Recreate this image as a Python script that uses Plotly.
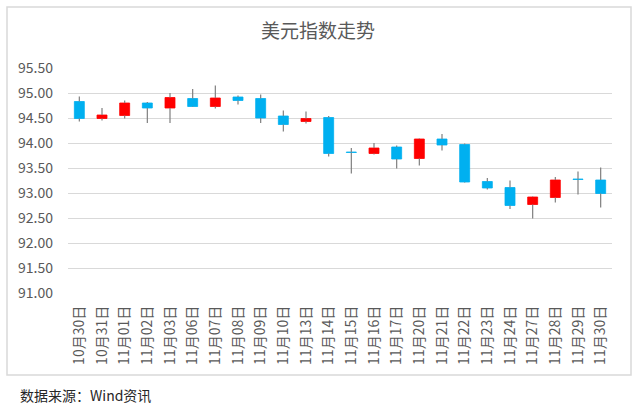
import plotly.graph_objects as go

dates = ["10月30日", "10月31日", "11月01日", "11月02日", "11月03日", "11月06日",
         "11月07日", "11月08日", "11月09日", "11月10日", "11月13日", "11月14日",
         "11月15日", "11月16日", "11月17日", "11月20日", "11月21日", "11月22日",
         "11月23日", "11月24日", "11月27日", "11月28日", "11月29日", "11月30日"]
open_ = [94.83, 94.49, 94.55, 94.80, 94.70, 94.89, 94.73, 94.92, 94.89, 94.54, 94.43, 94.51,
         93.82, 93.79, 93.92, 93.69, 94.08, 93.97, 93.23, 93.11, 92.77, 92.91, 93.28, 93.26]
close = [94.49, 94.56, 94.80, 94.70, 94.91, 94.73, 94.90, 94.85, 94.50, 94.37, 94.49, 93.79,
         93.81, 93.90, 93.68, 94.08, 93.96, 93.22, 93.10, 92.75, 92.92, 93.26, 93.27, 92.99]
high = [94.93, 94.70, 94.85, 94.82, 95.00, 95.08, 95.15, 94.95, 94.97, 94.65, 94.63, 94.54,
        93.90, 94.00, 93.95, 94.09, 94.18, 93.99, 93.30, 93.25, 92.93, 93.32, 93.43, 93.51]
low = [94.43, 94.45, 94.49, 94.40, 94.40, 94.72, 94.69, 94.77, 94.40, 94.23, 94.39, 93.73,
       93.39, 93.77, 93.49, 93.55, 93.85, 93.21, 93.07, 92.68, 92.49, 92.81, 92.97, 92.71]
y_ticks = [91.0, 91.5, 92.0, 92.5, 93.0, 93.5, 94.0, 94.5, 95.0, 95.5]

UP = "#FF0000"
DOWN = "#00B0F0"
WICK = "#7F7F7F"

fig = go.Figure()

# wicks (upper and lower segments, so they sit outside the bodies)
wx, wy = [], []
for d, o, c, h, l in zip(dates, open_, close, high, low):
    top, bot = max(o, c), min(o, c)
    wx += [d, d, None, d, d, None]
    wy += [h, top, None, bot, l, None]
fig.add_trace(go.Scatter(x=wx, y=wy, mode="lines", line=dict(color=WICK, width=1.2),
                         hoverinfo="skip", showlegend=False))

bases = [min(o, c) for o, c in zip(open_, close)]
heights = [abs(c - o) for o, c in zip(open_, close)]
colors = [UP if c > o else DOWN for o, c in zip(open_, close)]
fig.add_trace(go.Bar(x=dates, y=heights, base=bases, width=0.44,
                     marker=dict(color=colors, line=dict(color=colors, width=0.8)),
                     showlegend=False))

fig.update_layout(
    width=640, height=416,
    margin=dict(l=68, r=28, t=68, b=123),
    paper_bgcolor="white", plot_bgcolor="white",
    font=dict(family="Noto Sans CJK SC, Noto Sans, sans-serif", color="#595959"),
    title=dict(text="美元指数走势", x=0.497, y=1 - 31 / 416, xref="container", yref="container",
               xanchor="center", yanchor="middle",
               font=dict(size=19, color="#595959", family="Noto Sans CJK SC")),
    xaxis=dict(type="category", categoryorder="array", categoryarray=dates,
               tickangle=-90, showgrid=False, showline=False, ticks="",
               tickfont=dict(size=14, color="#595959"), ticklabelstandoff=9,
               range=[-0.5, len(dates) - 0.5]),
    yaxis=dict(range=[91.0, 95.5], tickvals=y_ticks, tickformat=".2f",
               showgrid=True, gridcolor="#D9D9D9", gridwidth=1, zeroline=False,
               showline=False, ticks="", tickfont=dict(size=14, color="#595959"),
               ticklabelstandoff=14),
    bargap=0.5,
)

fig.add_shape(type="rect", xref="paper", yref="paper",
              x0=(7 - 68) / 544, x1=(631 - 68) / 544,
              y0=(293 - 375) / 225, y1=(293 - 7) / 225,
              line=dict(color="#D9D9D9", width=1.5), fillcolor="rgba(0,0,0,0)", layer="below")

fig.add_annotation(text="数据来源：Wind资讯", xref="paper", yref="paper",
                   x=(18 - 68) / 544, y=(293 - 395) / 225, xanchor="left", yanchor="middle",
                   showarrow=False, font=dict(size=14, color="#262626", family="Noto Sans CJK SC"))

fig.write_html("out.html", config={"displayModeBar": False},
               post_script="document.body.style.margin='0px';")
